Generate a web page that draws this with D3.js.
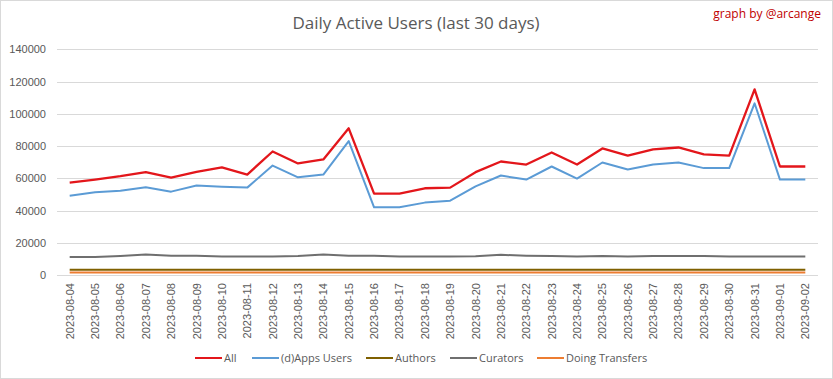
<!DOCTYPE html>
<html>
<head>
<meta charset="utf-8">
<script src="https://cdn.jsdelivr.net/npm/d3@7"></script>
<style>
  body { margin: 0; background: #fff; }
  svg text { font-family: "Open Sans", "Liberation Sans", sans-serif; }
</style>
</head>
<body>
<svg class="chart" width="833" height="379"></svg>
<script>
var dates = ['2023-08-04','2023-08-05','2023-08-06','2023-08-07','2023-08-08','2023-08-09','2023-08-10',
  '2023-08-11','2023-08-12','2023-08-13','2023-08-14','2023-08-15','2023-08-16','2023-08-17','2023-08-18',
  '2023-08-19','2023-08-20','2023-08-21','2023-08-22','2023-08-23','2023-08-24','2023-08-25','2023-08-26',
  '2023-08-27','2023-08-28','2023-08-29','2023-08-30','2023-08-31','2023-09-01','2023-09-02'];

var allUsers = [57300, 59200, 61300, 63800, 60400, 64000, 66700, 62300, 76600, 69200, 71700, 91000, 50500, 50500, 53800,
  54200, 63800, 70400, 68500, 76000, 68500, 78500, 74100, 77900, 79100, 74800, 74100, 115100, 67300, 67300];
var appsUsers = [49200, 51300, 52300, 54400, 51700, 55500, 54800, 54200, 67900, 60600, 62300, 83100, 42000, 42000, 44900,
  46100, 55000, 61700, 59200, 67300, 59800, 69800, 65400, 68500, 69800, 66300, 66300, 106500, 59200, 59200];
var authors = [3200, 3200, 3200, 3300, 3200, 3200, 3200, 3200, 3200, 3200, 3300, 3200, 3200, 3200, 3200,
  3200, 3200, 3300, 3200, 3200, 3200, 3200, 3200, 3200, 3200, 3200, 3200, 3200, 3200, 3200];
var curators = [11200, 11200, 11800, 12700, 12000, 12000, 11400, 11400, 11400, 11800, 12700, 12000, 12000, 11400, 11400,
  11400, 11600, 12500, 12000, 11800, 11400, 11800, 11400, 11800, 11800, 11800, 11400, 11400, 11400, 11400];
var transfers = [1500, 1500, 1500, 1500, 1500, 1500, 1500, 1500, 1500, 1500, 1500, 1500, 1500, 1500, 1500,
  1500, 1500, 1500, 1500, 1500, 1500, 1500, 1500, 1500, 1500, 1500, 1500, 1500, 1500, 1500];
var yTicks = [0, 20000, 40000, 60000, 80000, 100000, 120000, 140000];

var series = [
  {name: 'All', values: allUsers, color: '#e3161b', width: 2.3},
  {name: '(d)Apps Users', values: appsUsers, color: '#5b9bd5', width: 2},
  {name: 'Authors', values: authors, color: '#7f6000', width: 2},
  {name: 'Curators', values: curators, color: '#6f6f6f', width: 2},
  {name: 'Doing Transfers', values: transfers, color: '#ed7d31', width: 2}
];
// draw order: bottom series first, red on top
var drawOrder = [4, 2, 3, 1, 0];

var svg = d3.select('svg.chart');
var width = +svg.attr('width');
var height = +svg.attr('height');

svg.append('rect')
  .attr('x', 0.5).attr('y', 0.5)
  .attr('width', width - 1).attr('height', height - 1)
  .attr('fill', '#fff').attr('stroke', '#d9d9d9');

var x = d3.scaleBand().domain(dates).range([57, 818]);
var y = d3.scaleLinear().domain([0, 140000]).range([275, 49.3]);

// gridlines
svg.append('g')
  .selectAll('line')
  .data(yTicks)
  .enter()
  .append('line')
  .attr('x1', 57).attr('x2', 818)
  .attr('y1', function (d) { return Math.round(y(d)) + 0.5; })
  .attr('y2', function (d) { return Math.round(y(d)) + 0.5; })
  .attr('stroke', '#d9d9d9')
  .attr('stroke-width', 1);

// y axis labels
var yAxis = d3.axisLeft(y).tickValues(yTicks).tickSize(0).tickPadding(11)
  .tickFormat(d3.format('d'));
var yg = svg.append('g').attr('transform', 'translate(57,0)').call(yAxis);
yg.select('.domain').remove();
yg.selectAll('text')
  .attr('fill', '#595959')
  .style('font-size', '11px')
  .style('font-family', '"Liberation Sans", Arial, sans-serif');

// x axis labels
var xAxis = d3.axisBottom(x).tickSize(0).tickPadding(0);
var xg = svg.append('g').attr('transform', 'translate(0,275)').call(xAxis);
xg.select('.domain').remove();
xg.selectAll('text')
  .attr('fill', '#595959')
  .style('font-size', '11px')
  .style('font-family', '"Liberation Sans", Arial, sans-serif')
  .attr('text-anchor', 'end')
  .attr('transform', 'translate(4,8) rotate(-90)')
  .attr('x', 0).attr('y', 0).attr('dy', 0);

var line = d3.line()
  .x(function (d, i) { return x(dates[i]) + x.bandwidth() / 2; })
  .y(function (d) { return y(d); });

svg.append('g')
  .selectAll('path')
  .data(drawOrder.map(function (i) { return series[i]; }))
  .enter()
  .append('path')
  .attr('d', function (d) { return line(d.values); })
  .attr('fill', 'none')
  .attr('stroke', function (d) { return d.color; })
  .attr('stroke-width', function (d) { return d.width; })
  .attr('stroke-linejoin', 'round');

// title
svg.append('text')
  .attr('x', 416).attr('y', 29)
  .attr('text-anchor', 'middle')
  .attr('fill', '#595959')
  .style('font-size', '17px')
  .text('Daily Active Users (last 30 days)');

svg.append('text')
  .attr('x', 821).attr('y', 18)
  .attr('text-anchor', 'end')
  .attr('fill', '#c00000')
  .style('font-size', '12px')
  .text('graph by @arcange');

// legend
var legendX = [195, 252, 366, 450, 537];
var legend = svg.append('g')
  .selectAll('g')
  .data(series)
  .enter()
  .append('g')
  .attr('transform', function (d, i) { return 'translate(' + legendX[i] + ',358)'; });
legend.append('line')
  .attr('x1', 0).attr('x2', 27)
  .attr('stroke', function (d) { return d.color; })
  .attr('stroke-width', 2);
legend.append('text')
  .attr('x', 29).attr('y', 4)
  .attr('fill', '#595959')
  .style('font-size', '11px')
  .text(function (d) { return d.name; });
</script>
</body>
</html>
